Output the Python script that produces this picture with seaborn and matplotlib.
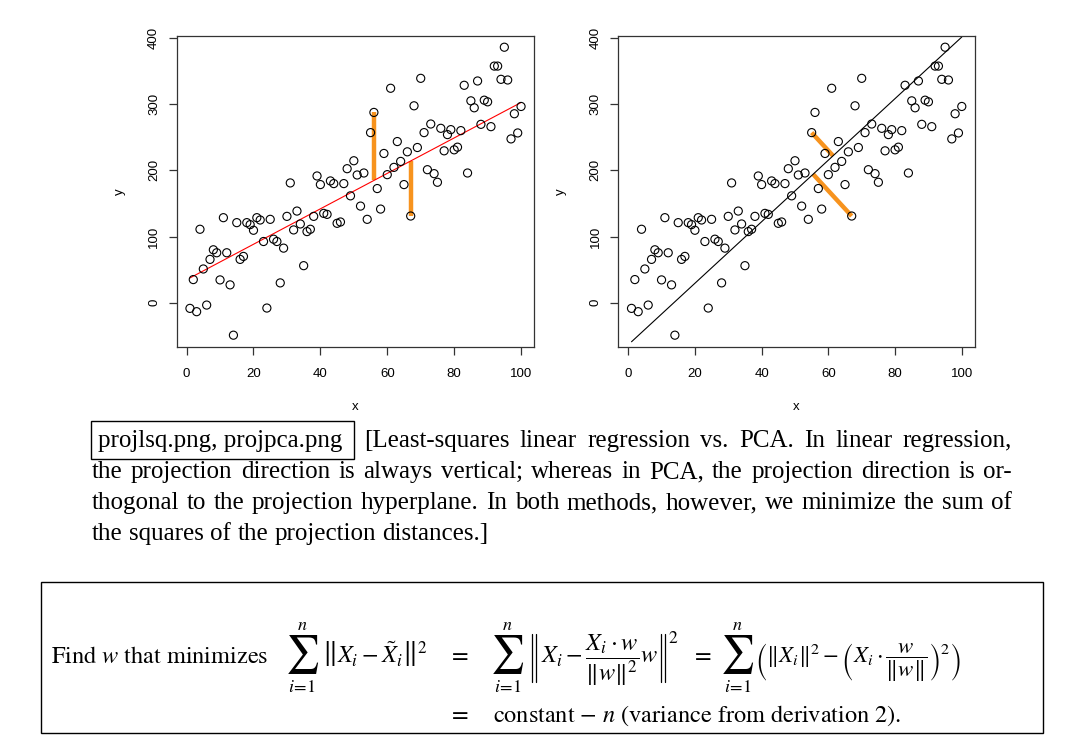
import numpy as np
import matplotlib
matplotlib.use("Agg")
import matplotlib.pyplot as plt
import seaborn as sns
from matplotlib.patches import Rectangle
from matplotlib.lines import Line2D

# data (same points in both)
x_vals = np.arange(1, 101)
y_vals = np.array([
    -8.5, 35, -13.5, 111, 51, -3.5, 65.5, 80, 75.5, 34.5,
    128.5, 75.5, 27, -49, 121, 65.5, 70, 121, 118, 109.5,
    128.5, 125, 92.5, -8, 126, 96, 92.5, 30, 82.5, 130.5,
    181, 110, 138.5, 119, 56, 107.5, 111, 130.5, 191.5, 178.5,
    135, 133.5, 184, 180, 120, 122, 180, 202.5, 161.5, 214.5,
    193, 146, 196, 126, 257, 287.5, 172.5, 141.5, 225.5, 193.5,
    324, 204.5, 243.5, 213.5, 178.5, 228, 131, 297.5, 234.5, 339,
    257, 201, 270, 195, 182, 263.5, 229.5, 254, 261.5, 231,
    235, 260, 328.5, 196, 305, 294.5, 335, 269.5, 306, 303.5,
    266, 357.5, 357.5, 337.5, 386, 336.5, 247.5, 285.5, 256.5, 296.5,
])
lsq_marked = [56, 67]      # x of points whose vertical projection is drawn
pca_marked = [55, 67]      # x of points whose orthogonal projection is drawn
lsq_intercept = 34.8       # red line in the left plot
lsq_slope = 2.677
pca_intercept = -63.6      # black line in the right plot
pca_slope = 4.65
x_ticks = [0, 20, 40, 60, 80, 100]
y_ticks = [0, 100, 200, 300, 400]

caption_tag = "projlsq.png, projpca.png"
caption_lines = [
    "[Least-squares linear regression vs. PCA. In linear regression,",
    "the projection direction is always vertical; whereas in PCA, the projection direction is or-",
    "thogonal to the projection hyperplane. In both methods, however, we minimize the sum of",
    "the squares of the projection distances.]",
]
eq_intro = r"Find $w$ that minimizes"
eq_terms = [
    r"$\left\|X_i-\tilde{X}_i\right\|^2$",
    r"$X_i-\dfrac{X_i\cdot w}{\|w\|^2}w$",
    r"$\left(\|X_i\|^2-\left(X_i\cdot\dfrac{w}{\|w\|}\right)^2\right)$",
]
eq_line2 = r"constant $-$ $n$ (variance from derivation 2)."

W, H = 1092, 739
ORANGE = "#f7931e"
AXCOL = "#333333"
SERIF = ["Liberation Serif", "DejaVu Serif"]
FS_TEXT = 18
FS_EQ = 17.5

sns.set_theme(style="white")
plt.rcParams["font.family"] = ["Liberation Sans", "DejaVu Sans"]
plt.rcParams["mathtext.fontset"] = "stix"
plt.rcParams["text.color"] = "black"
plt.rcParams["axes.labelcolor"] = "black"


def fxy(x, y):
    # pixel position (from top-left) -> figure fraction
    return x / W, 1 - y / H


def r_axes(left, right):
    top, bottom = 35.7, 346.7
    ax = fig.add_axes([left / W, 1 - bottom / H, (right - left) / W, (bottom - top) / H])
    xr = x_vals.max() - x_vals.min()
    yr = y_vals.max() - y_vals.min()
    ax.set_xlim(x_vals.min() - 0.04 * xr, x_vals.max() + 0.04 * xr)
    ax.set_ylim(y_vals.min() - 0.04 * yr, y_vals.max() + 0.04 * yr)
    ax.set_xticks(x_ticks)
    ax.set_yticks(y_ticks)
    ax.tick_params(bottom=True, left=True, direction="out", length=6, width=0.9,
                   color=AXCOL, labelsize=9.5, labelcolor="black")
    ax.tick_params(axis="x", pad=9)
    ax.tick_params(axis="y", pad=6)
    plt.setp(ax.get_yticklabels(), rotation=90, va="center")
    for sp in ax.spines.values():
        sp.set_color(AXCOL)
        sp.set_linewidth(0.9)
    ax.set_xlabel("x", fontsize=9.5)
    ax.set_ylabel("y", fontsize=9.5)
    ax.xaxis.set_label_coords(0.5, -(407 - bottom) / (bottom - top))
    ax.yaxis.set_label_coords(-57 / (right - left), 0.5)
    ax.xaxis.label.set_va("center")
    ax.yaxis.label.set_va("center")
    ax.grid(False)
    return ax


def points(ax):
    sns.scatterplot(x=x_vals, y=y_vals, ax=ax, marker="o", s=34, facecolor="none",
                    edgecolor="black", linewidth=0.8, legend=False, zorder=3)


def big_sum(xc):
    # display-style sum with limits above and below
    fig.text(*fxy(xc, 655), r"$\sum$", fontsize=27, ha="center", va="center")
    fig.text(*fxy(xc, 625), r"$n$", fontsize=13, ha="center", va="center")
    fig.text(*fxy(xc, 687), r"$i\!=\!1$", fontsize=13, ha="center", va="center")


def norm_bars(x):
    # tall double bar of the norm around the fraction
    for dx in (0, 4):
        fig.add_artist(Line2D([(x + dx) / W] * 2, [1 - 634 / H, 1 - 682 / H],
                              transform=fig.transFigure, color="black", lw=0.9))


fig = plt.figure(figsize=(W / 100, H / 100), dpi=100)

# left: least squares
ax1 = r_axes(176.7, 534.3)
fit = lsq_intercept + lsq_slope * x_vals
for xv in lsq_marked:
    i = xv - 1
    ax1.plot([xv, xv], [y_vals[i], fit[i]], color=ORANGE, lw=3.2, solid_capstyle="butt", zorder=2)
sns.lineplot(x=x_vals, y=fit, ax=ax1, color="red", lw=0.8, zorder=2.5)
points(ax1)

# right: PCA
ax2 = r_axes(618.3, 975.0)
pca_line = pca_intercept + pca_slope * x_vals
sns.lineplot(x=x_vals, y=pca_line, ax=ax2, color="black", lw=0.8, zorder=2.5)
tr = ax2.transData
a = tr.transform((x_vals[0], pca_line[0]))
b = tr.transform((x_vals[-1], pca_line[-1]))
d = b - a
for xv in pca_marked:
    i = xv - 1
    p = tr.transform((xv, y_vals[i]))
    foot = tr.inverted().transform(a + np.dot(p - a, d) / np.dot(d, d) * d)
    ax2.plot([xv, foot[0]], [y_vals[i], foot[1]], color=ORANGE, lw=3.2, solid_capstyle="butt", zorder=2)
points(ax2)

# caption paragraph
renderer = fig.canvas.get_renderer()
fig.patches.append(Rectangle(fxy(90.5, 459), 263.5 / W, 38 / H, transform=fig.transFigure,
                             fill=False, edgecolor="black", lw=1.0))
fig.text(*fxy(98, 447), caption_tag, family=SERIF, fontsize=FS_TEXT, va="baseline")

space_px = 0.25 * FS_TEXT * 100 / 72
line_specs = [(364, 1012, 447, True), (92, 1012, 478, True), (92, 1012, 509, True), (92, 1012, 540, False)]
for line, (x0, x1, by, just) in zip(caption_lines, line_specs):
    words = line.split(" ")
    texts = [fig.text(0, 0, w, family=SERIF, fontsize=FS_TEXT, va="baseline") for w in words]
    widths = [t.get_window_extent(renderer).width for t in texts]
    gap = (x1 - x0 - sum(widths)) / (len(words) - 1) if just else space_px
    xp = x0
    for t, w in zip(texts, widths):
        t.set_position(fxy(xp, by))
        xp += w + gap

# formula box
fig.patches.append(Rectangle(fxy(40.7, 733), 1002.6 / W, 151 / H, transform=fig.transFigure,
                             fill=False, edgecolor="black", lw=1.0))
eq_kw = dict(family="STIXGeneral", fontsize=FS_EQ, va="baseline")
fig.text(*fxy(50.7, 663), eq_intro, **eq_kw)
big_sum(302)
fig.text(*fxy(322, 663), eq_terms[0], **eq_kw)
fig.text(*fxy(460, 663), "=", ha="center", **eq_kw)
big_sum(507.5)
norm_bars(532)
t2 = fig.text(*fxy(541, 663), eq_terms[1], **eq_kw)
t2_end = 541 + t2.get_window_extent(renderer).width
norm_bars(t2_end + 3)
fig.text(*fxy(t2_end + 10, 643), "2", family="STIXGeneral", fontsize=12.5, va="baseline")
fig.text(*fxy(703, 663), "=", ha="center", **eq_kw)
big_sum(737.5)
fig.text(*fxy(755, 663), eq_terms[2], family="STIXGeneral", fontsize=16.5, va="baseline")
fig.text(*fxy(460, 722), "=", ha="center", **eq_kw)
fig.text(*fxy(493, 722), eq_line2, **eq_kw)

fig.savefig("out.png", dpi=100)
